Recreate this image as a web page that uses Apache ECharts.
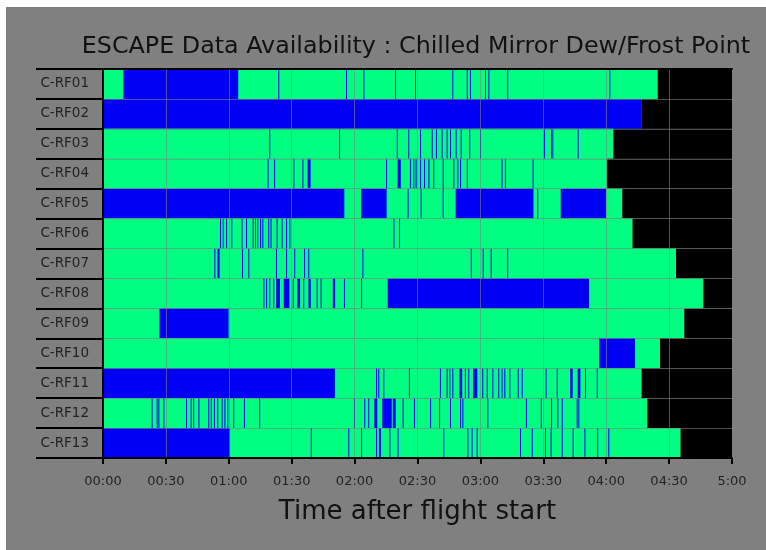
<!DOCTYPE html>
<html>
<head>
<meta charset="utf-8">
<script src="https://cdn.jsdelivr.net/npm/echarts@6/dist/echarts.min.js"></script>
<style>
html,body{margin:0;padding:0;background:#ffffff;}
#chart{position:absolute;left:6px;top:7px;width:760px;height:543px;}
</style>
</head>
<body>
<div id="chart"></div>
<script>
// Flight names (rows, top to bottom)
const flights = ['C-RF01','C-RF02','C-RF03','C-RF04','C-RF05','C-RF06','C-RF07','C-RF08','C-RF09','C-RF10','C-RF11','C-RF12','C-RF13'];
// End of each flight, minutes after start (black afterwards)
const endTimes = [264.6, 256.9, 243.4, 240.5, 247.7, 252.6, 273.3, 286.3, 277.3, 265.7, 256.9, 259.6, 275.5];
// Missing data (blue) intervals in minutes; a single number is a brief gap
const gapsRF01 = [[9.7,64.5], 83.6, 115.9, 124.2, 139.3, 148.8, 166.6, 173.5, 175.0, 182.2, 183.8, 192.8, 241.5];
const gapsRF02 = [[0, 256.9]];
const gapsRF03 = [79.3, 112.6, 140.1, 145.6, 151.2, 156.8, 158.8, 161.5, 163.9, 165.5, 168.2, 170.6, 174.7, 179.8, 210.3, 213.7, 214.3, 226.4];
const gapsRF04 = [78.5, 81.6, 90.8, 95.1, [97.6,99.0], 135.0, [140.5,142.0], 146.4, 148.0, 149.1, 151.2, 153.1, 155.2, 157.5, 162.0, 167.1, 169.0, 170.3, 173.5, 190.1, 191.7, 204.9];
const gapsRF05 = [[0,115.1], [123.1,135.3], 145.3, 151.5, 162.0, [168.2,205.3], 207.1, [218.3,239.9]];
const gapsRF06 = [55.8, 57.1, 58.7, 61.2, 66.1, 68.2, 71.4, 72.5, 73.6, 74.9, 76.0, 78.8, 79.9, 82.8, 85.2, 87.3, 88.9, 138.5, 141.2];
const gapsRF07 = [53.1, [54.6,55.6], 66.3, 69.3, 82.5, 87.3, 91.2, 95.9, 97.9, 123.7, 175.4, 181.1, 184.9, 192.8];
const gapsRF08 = [76.5, 77.8, 79.3, 81.2, [82.6,84.4], [86.2,88.9], 90.5, [92.7,94.0], 95.5, [98.0,99.1], 101.9, 103.8, [109.6,110.7], 114.9, 123.1, [135.8,231.8]];
const gapsRF09 = [[26.9,59.9]];
const gapsRF10 = [[236.6,253.7]];
const gapsRF11 = [[0,110.6], 130.2, 131.3, 133.7, 145.9, 160.7, 163.9, 165.2, 166.6, [170.0,171.3], 172.6, 174.2, [176.5,178.5], 180.9, 183.0, 185.7, 188.5, 190.1, 191.4, 193.8, 197.8, 199.7, 211.1, 216.4, [222.8,224.0], [226.4,227.7], 229.9, 235.5];
const gapsRF12 = [23.2, 25.6, 26.4, 28.8, 39.6, 41.8, 43.0, 45.5, 50.2, 51.4, 52.9, 54.5, 56.6, 57.9, 59.3, 62.1, 67.2, 74.5, 119.7, 124.6, 126.5, [129.4,130.8], [133.2,137.7], [138.2,139.6], 142.9, 148.3, 156.0, 160.3, 165.5, 170.3, 171.4, 183.3, 201.7, 208.8, 213.7, 216.7, 218.8, 225.9, 226.7];
const gapsRF13 = [[0,60.6], 99.1, 117.0, 123.1, 130.2, [131.6,132.6], 136.6, 140.5, 162.3, 173.8, 175.8, 178.2, 198.9, 204.5, 210.8, 213.5, 218.8, 224.0, 229.6, 235.7, 241.0];
// Axis
const axisMax = 300;
const tickLabels = ['00:00','00:30','01:00','01:30','02:00','02:30','03:00','03:30','04:00','04:30','5:00'];

const allGaps = [gapsRF01,gapsRF02,gapsRF03,gapsRF04,gapsRF05,gapsRF06,gapsRF07,gapsRF08,gapsRF09,gapsRF10,gapsRF11,gapsRF12,gapsRF13];
const COLORS = {ok:'#00ff80', missing:'#0000f5', none:'#000000'};

const segs = [];
flights.forEach((f, i) => {
  segs.push([0, endTimes[i], i, 'ok']);
  allGaps[i].forEach(g => {
    if (Array.isArray(g)) segs.push([g[0], g[1], i, 'missing']);
    else segs.push([g, g + 0.45, i, 'missing']);
  });
  segs.push([endTimes[i], axisMax, i, 'none']);
});

const chart = echarts.init(document.getElementById('chart'));
const FONT = 'DejaVu Sans';
chart.setOption({
  backgroundColor: '#808080',
  animation: false,
  title: {
    text: 'ESCAPE Data Availability : Chilled Mirror Dew/Frost Point',
    left: 405, top: 23, textAlign: 'center',
    textStyle: {fontFamily: FONT, fontSize: 23.8, fontWeight: 'normal', color: '#111'}
  },
  grid: {left: 97, right: 34, top: 62, bottom: 92},
  xAxis: [{
    type: 'value', min: 0, max: axisMax, interval: 30, z: 10,
    axisLine: {show: true, lineStyle: {color: '#000', width: 2}},
    axisTick: {show: true, length: 6, lineStyle: {color: '#000', width: 2}},
    axisLabel: {fontFamily: FONT, fontSize: 13, color: '#222', margin: 17,
      formatter: v => tickLabels[Math.round(v / 30)]},
    splitLine: {show: true, lineStyle: {color: 'rgba(128,128,128,0.6)', width: 1}},
    name: 'Time after flight start', nameLocation: 'middle', nameGap: 41,
    nameTextStyle: {fontFamily: FONT, fontSize: 26, color: '#111'}
  }, {
    type: 'value', position: 'top', min: 0, max: axisMax, z: 10,
    axisLine: {show: true, lineStyle: {color: '#000', width: 2}},
    axisTick: {show: false}, axisLabel: {show: false}, splitLine: {show: false}
  }],
  yAxis: {
    type: 'category', data: flights, inverse: true, z: 10,
    axisLine: {show: true, lineStyle: {color: '#000', width: 2}},
    axisTick: {show: true, length: 67, lineStyle: {color: '#000', width: 2}},
    axisLabel: {fontFamily: FONT, fontSize: 13.5, color: '#222', margin: 14},
    splitLine: {show: true, lineStyle: {color: 'rgba(128,128,128,0.6)', width: 1}}
  },
  series: [{
    type: 'custom',
    xAxisIndex: 0,
    data: segs,
    encode: {x: [0, 1], y: 2},
    renderItem: function (params, api) {
      const row = api.value(2);
      const s = api.coord([api.value(0), row]);
      const e = api.coord([api.value(1), row]);
      const h = api.size([0, 1])[1];
      const t = segs[params.dataIndex][3];
      return {
        type: 'rect',
        shape: {x: s[0], y: s[1] - h / 2, width: Math.max(e[0] - s[0], 1), height: h},
        style: {fill: COLORS[t]}
      };
    }
  }]
});
</script>
</body>
</html>
